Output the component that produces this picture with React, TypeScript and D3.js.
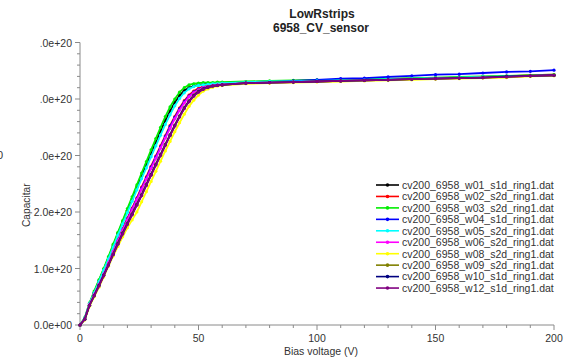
import * as d3 from 'd3';

// bias voltage points (V)
const voltages = [0, 2, 4, 6, 8, 10, 12, 14, 16, 18, 20, 22, 24, 26, 28, 30, 32, 34, 36, 38, 40,
  42, 44, 46, 48, 50, 52, 54, 56, 58, 60,
  70, 80, 90, 100, 110, 120, 130, 140, 150, 160, 170, 180, 190, 200];

// values in units of 1e20
const w01 = [0, 0.12, 0.38, 0.58, 0.78, 0.98, 1.19, 1.40, 1.62, 1.82, 2.03, 2.23, 2.44, 2.64, 2.84, 3.04,
  3.24, 3.43, 3.62, 3.79, 3.94, 4.06, 4.15, 4.20, 4.23, 4.25, 4.26, 4.27, 4.27, 4.28, 4.28,
  4.30, 4.31, 4.32, 4.33, 4.33, 4.34, 4.35, 4.36, 4.37, 4.38, 4.39, 4.40, 4.41, 4.42];
const w02 = [0, 0.11, 0.36, 0.54, 0.73, 0.92, 1.12, 1.32, 1.51, 1.70, 1.89, 2.07, 2.25, 2.44, 2.62, 2.81,
  2.99, 3.17, 3.35, 3.53, 3.69, 3.84, 3.97, 4.07, 4.14, 4.19, 4.22, 4.24, 4.25, 4.26, 4.27,
  4.29, 4.30, 4.31, 4.32, 4.33, 4.34, 4.35, 4.36, 4.37, 4.38, 4.39, 4.40, 4.42, 4.43];
const w03 = [0, 0.13, 0.39, 0.60, 0.80, 1.00, 1.21, 1.43, 1.64, 1.85, 2.06, 2.27, 2.48, 2.69, 2.89, 3.10,
  3.30, 3.50, 3.69, 3.86, 4.00, 4.12, 4.20, 4.25, 4.27, 4.28, 4.29, 4.29, 4.29, 4.30, 4.30,
  4.31, 4.32, 4.33, 4.34, 4.34, 4.35, 4.36, 4.37, 4.38, 4.39, 4.40, 4.41, 4.42, 4.43];
const w04 = [0, 0.11, 0.36, 0.54, 0.72, 0.91, 1.11, 1.31, 1.50, 1.69, 1.87, 2.05, 2.23, 2.42, 2.60, 2.79,
  2.97, 3.15, 3.33, 3.51, 3.67, 3.82, 3.95, 4.05, 4.12, 4.17, 4.20, 4.22, 4.24, 4.25, 4.26,
  4.29, 4.30, 4.32, 4.34, 4.36, 4.37, 4.39, 4.41, 4.43, 4.44, 4.46, 4.48, 4.49, 4.51];
const w05 = [0, 0.12, 0.38, 0.57, 0.77, 0.97, 1.17, 1.38, 1.59, 1.79, 1.99, 2.19, 2.39, 2.59, 2.78, 2.98,
  3.17, 3.36, 3.55, 3.72, 3.88, 4.01, 4.11, 4.18, 4.22, 4.24, 4.25, 4.26, 4.27, 4.27, 4.28,
  4.30, 4.31, 4.31, 4.32, 4.33, 4.34, 4.35, 4.36, 4.37, 4.38, 4.39, 4.40, 4.41, 4.42];
const w06 = [0, 0.11, 0.36, 0.54, 0.72, 0.90, 1.10, 1.30, 1.49, 1.68, 1.86, 2.04, 2.22, 2.40, 2.58, 2.77,
  2.95, 3.13, 3.31, 3.48, 3.65, 3.80, 3.93, 4.04, 4.11, 4.16, 4.20, 4.22, 4.24, 4.25, 4.26,
  4.28, 4.29, 4.30, 4.31, 4.32, 4.33, 4.34, 4.35, 4.36, 4.37, 4.38, 4.39, 4.41, 4.42];
const w08 = [0, 0.09, 0.33, 0.50, 0.67, 0.85, 1.04, 1.22, 1.39, 1.56, 1.72, 1.86, 2.00, 2.18, 2.36, 2.54,
  2.72, 2.90, 3.08, 3.25, 3.42, 3.58, 3.73, 3.87, 3.98, 4.07, 4.14, 4.18, 4.21, 4.23, 4.24,
  4.27, 4.28, 4.29, 4.30, 4.31, 4.32, 4.33, 4.34, 4.35, 4.36, 4.37, 4.38, 4.40, 4.41];
const w09 = [0, 0.10, 0.35, 0.52, 0.70, 0.88, 1.07, 1.26, 1.45, 1.63, 1.80, 1.97, 2.14, 2.31, 2.49, 2.67,
  2.85, 3.02, 3.20, 3.37, 3.54, 3.70, 3.85, 3.97, 4.07, 4.14, 4.18, 4.21, 4.23, 4.24, 4.25,
  4.28, 4.29, 4.30, 4.31, 4.32, 4.33, 4.34, 4.35, 4.36, 4.37, 4.38, 4.39, 4.41, 4.42];
const w10 = [0, 0.10, 0.35, 0.52, 0.70, 0.88, 1.06, 1.25, 1.44, 1.62, 1.79, 1.96, 2.13, 2.30, 2.48, 2.66,
  2.84, 3.01, 3.19, 3.36, 3.53, 3.69, 3.84, 3.96, 4.06, 4.13, 4.18, 4.21, 4.23, 4.24, 4.25,
  4.28, 4.29, 4.30, 4.31, 4.32, 4.33, 4.34, 4.35, 4.36, 4.37, 4.38, 4.40, 4.41, 4.42];
const w12 = [0, 0.10, 0.35, 0.52, 0.69, 0.87, 1.06, 1.25, 1.43, 1.61, 1.78, 1.95, 2.12, 2.29, 2.47, 2.65,
  2.83, 3.00, 3.18, 3.35, 3.52, 3.68, 3.83, 3.95, 4.05, 4.12, 4.17, 4.21, 4.23, 4.24, 4.25,
  4.28, 4.29, 4.30, 4.31, 4.32, 4.33, 4.34, 4.35, 4.36, 4.37, 4.38, 4.39, 4.41, 4.42];

const seriesNames = [
  'cv200_6958_w01_s1d_ring1.dat',
  'cv200_6958_w02_s2d_ring1.dat',
  'cv200_6958_w03_s2d_ring1.dat',
  'cv200_6958_w04_s1d_ring1.dat',
  'cv200_6958_w05_s2d_ring1.dat',
  'cv200_6958_w06_s2d_ring1.dat',
  'cv200_6958_w08_s2d_ring1.dat',
  'cv200_6958_w09_s2d_ring1.dat',
  'cv200_6958_w10_s1d_ring1.dat',
  'cv200_6958_w12_s1d_ring1.dat',
];
const seriesValues = [w01, w02, w03, w04, w05, w06, w08, w09, w10, w12];
const seriesColors = ['#000000', '#ff0000', '#00ee00', '#0000ff', '#00ffff',
  '#ff00ff', '#ffff00', '#808000', '#000080', '#800080'];

const xTicks = [0, 50, 100, 150, 200];
const yTicks = [0, 1, 2, 3, 4, 5];

const W = 567;
const H = 360;
const margin = { top: 42.5, right: 13, bottom: 35, left: 80 };

export default function App() {
  const x = d3.scaleLinear().domain([0, 200]).range([margin.left, W - margin.right]);
  const y = d3.scaleLinear().domain([0, 5]).range([H - margin.bottom, margin.top]);

  const line = d3.line<number>()
    .x((_, i) => x(voltages[i]))
    .y(d => y(d));

  const xMinor = d3.range(0, 201, 10);
  const yMinor = d3.range(0, 5.01, 0.2);
  const fmtY = (d: number) => (d === 0 ? '0.0e+00' : `${d.toFixed(1)}e+20`);

  const axisColor = '#8a8a8a';
  const textColor = '#333';
  const font = 'Liberation Sans, Arial, sans-serif';
  const y0 = H - margin.bottom;

  const legendX = 376;
  const legendY = 185;
  const legendStep = 11.45;

  return (
    <svg width={W} height={H} style={{ position: 'absolute', left: 0, top: 0, background: '#fff' }}
      fontFamily={font}>
      <rect width={W} height={H} fill="#fff" />
      {/* title */}
      <text x={322} y={18} textAnchor="middle" fontSize={12} fontWeight="bold" fill="#222">LowRstrips</text>
      <text x={321} y={32} textAnchor="middle" fontSize={12} fontWeight="bold" fill="#222">6958_CV_sensor</text>

      {/* axes */}
      <line x1={margin.left} x2={margin.left} y1={margin.top} y2={y0} stroke={axisColor} />
      <line x1={margin.left} x2={W - margin.right} y1={y0} y2={y0} stroke={axisColor} />
      {yMinor.map((d, i) => (
        <line key={'ym' + i} x1={margin.left - (i % 5 === 0 ? 5 : 3)} x2={margin.left}
          y1={y(d)} y2={y(d)} stroke={axisColor} />
      ))}
      {xMinor.map((d, i) => (
        <line key={'xm' + i} x1={x(d)} x2={x(d)} y1={y0} y2={y0 + (i % 5 === 0 ? 5 : 3)} stroke={axisColor} />
      ))}
      {yTicks.map(d => (
        <text key={'yt' + d} x={margin.left - 8} y={y(d) + 4} textAnchor="end" fontSize={10.5} fill={textColor}>
          {fmtY(d)}
        </text>
      ))}
      {xTicks.map(d => (
        <text key={'xt' + d} x={x(d)} y={y0 + 17} textAnchor="middle" fontSize={10.5} fill={textColor}>{d}</text>
      ))}
      <text x={321} y={355} textAnchor="middle" fontSize={10.5} fill={textColor}>Bias voltage (V)</text>
      <text transform="translate(30,227) rotate(-90)" fontSize={10.2} fill={textColor}>Capacitance</text>

      {/* series */}
      {seriesValues.map((vals, s) => (
        <g key={'s' + s}>
          <path d={line(vals) || ''} fill="none" stroke={seriesColors[s]} strokeWidth={1.8} />
          {vals.map((v, i) => (
            <circle key={i} cx={x(voltages[i])} cy={y(v)} r={1.6} fill={seriesColors[s]} />
          ))}
        </g>
      ))}

      {/* legend */}
      {seriesNames.map((name, i) => (
        <g key={'lg' + i} transform={`translate(${legendX},${legendY + i * legendStep})`}>
          <line x1={0} x2={23} y1={0} y2={0} stroke={seriesColors[i]} strokeWidth={1.6} />
          <circle cx={11.5} cy={0} r={1.8} fill={seriesColors[i]} />
          <text x={26} y={3.8} fontSize={10.5} fill={textColor}>{name}</text>
        </g>
      ))}

      {/* white area over the left edge, as in the source image */}
      <rect x={0} y={0} width={40.5} height={183.5} fill="#fff" />
      <text x={-3} y={159} fontSize={11} fill={textColor}>0</text>
    </svg>
  );
}
